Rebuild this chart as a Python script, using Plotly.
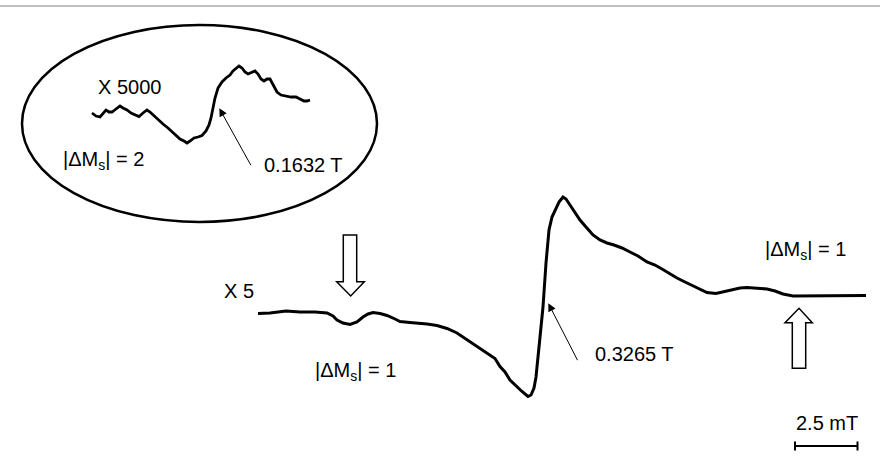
import plotly.graph_objects as go

W, H = 880, 467

# Main |ΔMs| = 1 spectrum (magnetic field in mT, first-derivative signal in arbitrary units)
field_main = [315.02, 315.50, 316.14, 316.70, 317.30, 317.78, 318.02, 318.18, 318.42, 318.70,
              318.98, 319.22, 319.42, 319.62, 319.90, 320.18, 320.50, 320.70, 321.10, 321.50,
              321.78, 322.18, 322.58, 322.98, 323.38, 323.78, 324.18, 324.50, 324.70, 324.90,
              325.10, 325.34, 325.58, 325.82, 325.94, 326.06, 326.14, 326.22, 326.34, 326.42,
              326.54, 326.66, 326.78, 326.90, 327.06, 327.22, 327.34, 327.50, 327.70, 327.90,
              328.14, 328.42, 328.70, 328.98, 329.26, 329.58, 329.90, 330.22, 330.58, 330.90,
              331.18, 331.50, 331.78, 332.10, 332.42, 332.70, 332.98, 333.34, 333.70, 334.02,
              334.30, 334.58, 334.98, 335.38, 335.70, 336.02, 336.42, 336.82, 337.22, 337.62,
              338.02, 338.42, 338.70, 339.02, 339.34]
signal_main = [-0.5, 0, 2, 1, 1, 0, -3, -7, -10, -11.5,
               -9, -4, -1, 0.5, -0.5, -2.5, -6, -8.5, -9.5, -10,
               -11, -12.5, -15.5, -20, -26.5, -33, -40, -45.5, -53.5, -59,
               -67, -73, -78.5, -83.5, -82, -75, -64, -44, -17, 6,
               50, 83, 96, 102, 111, 116, 114, 108, 101, 93,
               86, 78, 73, 70, 68, 65, 61, 57, 51, 48,
               44, 39, 35, 31, 27, 23.5, 20.5, 19.5, 21.5, 24,
               25, 25.5, 25, 24, 22, 19, 17, 17, 17, 17.5,
               17.5, 17, 17.5, 17.5, 17.5]

# Half-field |ΔMs| = 2 transition (inset, x 5000)
field_half = [158.34, 158.50, 158.66, 158.78, 158.90, 159.02, 159.14, 159.30, 159.46, 159.58,
              159.74, 159.90, 160.06, 160.22, 160.38, 160.54, 160.66, 160.82, 160.98, 161.18,
              161.38, 161.54, 161.70, 161.86, 162.02, 162.14, 162.26, 162.42, 162.58, 162.74,
              162.90, 163.02, 163.10, 163.18, 163.26, 163.38, 163.54, 163.70, 163.86, 163.98,
              164.10, 164.22, 164.34, 164.46, 164.58, 164.74, 164.86, 164.98, 165.10, 165.22,
              165.34, 165.46, 165.58, 165.74, 165.90, 166.10, 166.30, 166.50, 166.66, 166.82,
              166.94, 167.06]
signal_half = [0, -3, -4, 0, 3, 1, 1, 4, 7, 5,
               3, 0, -2, -3.5, 0, 3, 1, -3, -6, -11,
               -15, -19, -23, -26, -28, -30, -28, -25, -24, -22.5,
               -18, -12, -5, 5, 15, 25, 31, 35, 38, 42,
               45, 47, 45, 41, 39, 41, 42, 39, 34, 32,
               34, 34, 28, 21, 18, 17, 16, 16, 14, 12,
               12, 13]

# Field scale bar
SCALE_BAR_MT = 2.5
scale_bar_start = 336.5
scale_bar_level = -133

# Axis windows (field in mT, signal in arbitrary units)
main_x_range = [304.7, 339.9]
main_y_range = [-154, 313]
half_x_range = [154.66, 189.86]
half_y_range = [-354, 113]

FONT = "Liberation Sans, Arial, sans-serif"
FONT_SIZE = 20


def px(x, y):
    """Pixel position on the page -> paper coordinates."""
    return x / W, 1 - y / H


fig = go.Figure()

fig.add_trace(go.Scatter(x=field_main, y=signal_main, mode="lines",
                         line=dict(color="black", width=3), hoverinfo="skip",
                         showlegend=False, xaxis="x", yaxis="y"))

fig.add_trace(go.Scatter(x=field_half, y=signal_half, mode="lines",
                         line=dict(color="black", width=2.8), hoverinfo="skip",
                         showlegend=False, xaxis="x2", yaxis="y2"))

# scale bar with end caps
sb0, sb1 = scale_bar_start, scale_bar_start + SCALE_BAR_MT
cap = 4.5
fig.add_trace(go.Scatter(
    x=[sb0, sb1, None, sb0, sb0, None, sb1, sb1],
    y=[scale_bar_level, scale_bar_level, None,
       scale_bar_level - cap, scale_bar_level + cap, None,
       scale_bar_level - cap, scale_bar_level + cap],
    mode="lines", line=dict(color="black", width=2), hoverinfo="skip",
    showlegend=False, xaxis="x", yaxis="y"))

shapes = []

# thin grey rule along the top
x0, y0 = px(0, 6)
x1, _ = px(W, 6)
shapes.append(dict(type="line", xref="paper", yref="paper", x0=x0, x1=x1, y0=y0, y1=y0,
                   line=dict(color="#c0c0c0", width=2)))

# oval around the half-field inset
ex0, ey0 = px(22, 222)
ex1, ey1 = px(377, 25)
shapes.append(dict(type="circle", xref="paper", yref="paper", x0=ex0, x1=ex1, y0=ey0, y1=ey1,
                   line=dict(color="black", width=2.5)))


def block_arrow(points):
    pts = [px(x, y) for x, y in points]
    d = "M " + " L ".join(f"{a:.5f},{b:.5f}" for a, b in pts) + " Z"
    return dict(type="path", xref="paper", yref="paper", path=d,
                fillcolor="white", line=dict(color="black", width=1.5))


# open block arrows marking the |ΔMs| = 1 turning points
shapes.append(block_arrow([(343.3, 235), (356.7, 235), (356.7, 281.7), (364.3, 281.7),
                           (350.7, 296), (336.7, 281.7), (343.3, 281.7)]))
shapes.append(block_arrow([(792.3, 368.3), (805.7, 368.3), (805.7, 322.7), (812.3, 322.7),
                           (799, 308.3), (785, 322.7), (792.3, 322.7)]))

annotations = []


def label(text, x, y, size=FONT_SIZE):
    ax_, ay_ = px(x, y)
    annotations.append(dict(text=text, x=ax_, y=ay_, xref="paper", yref="paper",
                            xanchor="left", yanchor="middle", showarrow=False,
                            font=dict(family=FONT, size=size, color="black")))


def pointer(tip, tail):
    tx, ty = px(*tip)
    annotations.append(dict(text="", x=tx, y=ty, xref="paper", yref="paper",
                            ax=tail[0] - tip[0], ay=tail[1] - tip[1],
                            showarrow=True, arrowhead=2, arrowsize=1.6, arrowwidth=1,
                            arrowcolor="black"))


label("X 5000", 96, 87)
label("|ΔM<sub>s</sub>| = 2", 61, 161)
label("0.1632 T", 262, 164.5)
label("X 5", 222, 291)
label("|ΔM<sub>s</sub>| = 1", 313, 371)
label("|ΔM<sub>s</sub>| = 1", 763, 251)
label("0.3265 T", 593, 354)
label("2.5 mT", 794, 423)

pointer((219.3, 108.3), (251.7, 166.7))
pointer((548.3, 303.3), (578.3, 361.7))

hidden = dict(visible=False, showgrid=False, zeroline=False, fixedrange=True)

fig.update_layout(
    width=W, height=H,
    margin=dict(l=0, r=0, t=0, b=0),
    paper_bgcolor="white", plot_bgcolor="white",
    xaxis=dict(range=main_x_range, domain=[0, 1], **hidden),
    yaxis=dict(range=main_y_range, domain=[0, 1], **hidden),
    xaxis2=dict(range=half_x_range, overlaying="x", anchor="y2", **hidden),
    yaxis2=dict(range=half_y_range, overlaying="y", anchor="x2", **hidden),
    shapes=shapes,
    annotations=annotations,
    showlegend=False,
)

fig.write_html("out.html", config={"displayModeBar": False})
